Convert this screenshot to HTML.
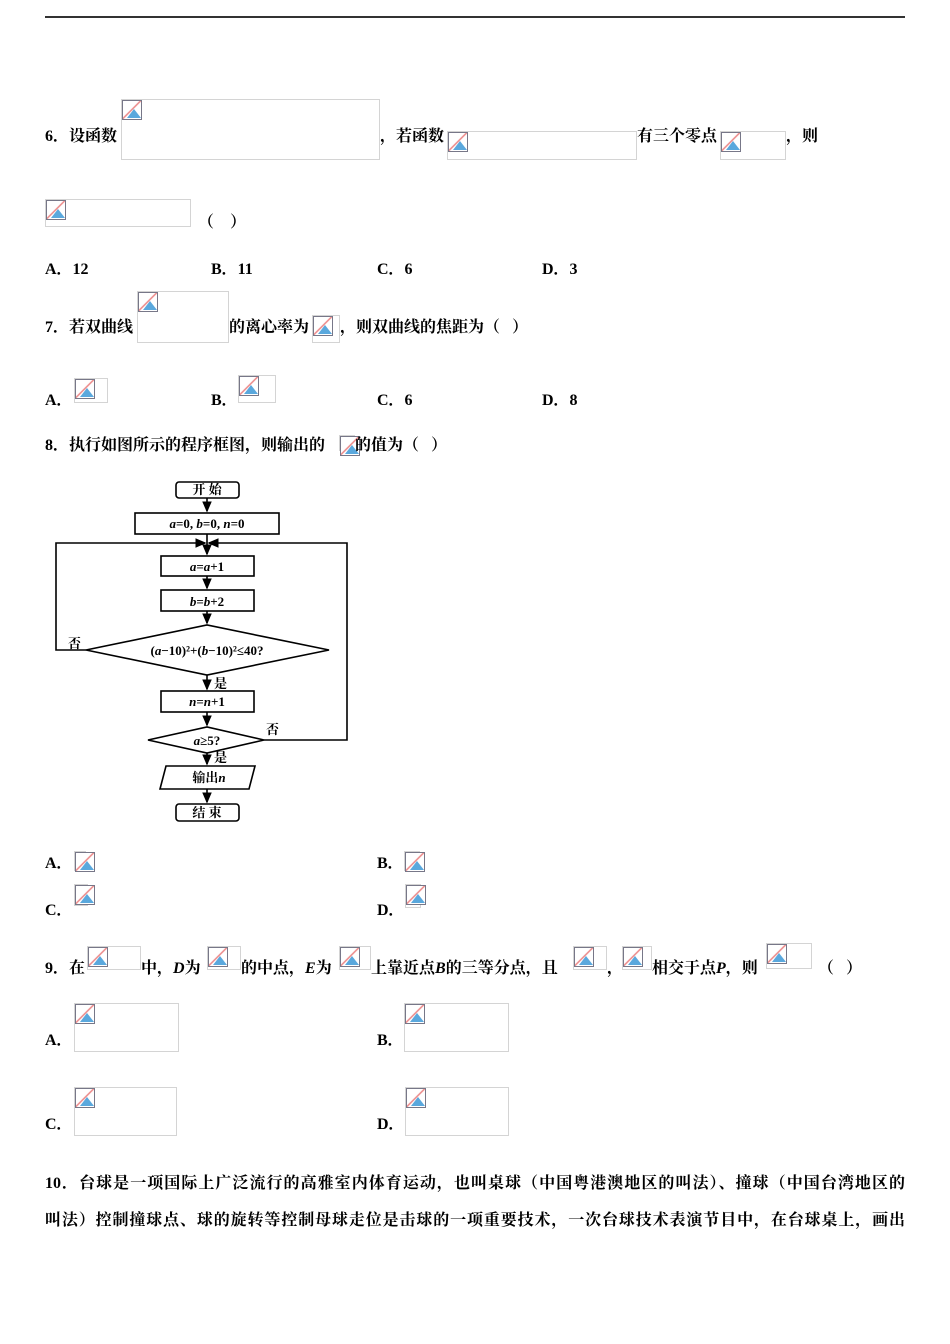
<!DOCTYPE html>
<html><head><meta charset="utf-8"><style>
body{margin:0;width:950px;height:1344px;background:#fff;position:relative;overflow:hidden;font-family:"Liberation Serif","Noto Serif CJK SC","Noto Sans CJK SC",serif;font-size:16px;color:#000;font-weight:bold}
.t{position:absolute;white-space:nowrap;line-height:18px}
.b{position:absolute;border:1px solid #d4d4d4;box-sizing:border-box}
.b::before{content:"";position:absolute;left:0;top:0;width:18px;height:18px;background:linear-gradient(135deg,#fff 0 45%,#e99 45% 52%,#fff 52%);border:1px solid #778}
.b::after{content:"";position:absolute;left:5px;top:9px;width:0;height:0;border-left:7px solid transparent;border-right:7px solid transparent;border-bottom:9px solid #5aa8dd}
i{font-style:italic}
</style></head><body>
<div style="position:absolute;left:45px;top:16px;width:860px;height:2px;background:#333"></div>

<div class="t" style="left:45px;top:128px">6．设函数</div>
<div class="b" style="left:121px;top:99px;width:259px;height:61px"></div>
<div class="t" style="left:380px;top:128px">，若函数</div>
<div class="b" style="left:447px;top:131px;width:190px;height:29px"></div>
<div class="t" style="left:637px;top:128px">有三个零点</div>
<div class="b" style="left:720px;top:131px;width:66px;height:29px"></div>
<div class="t" style="left:786px;top:128px">，则</div>
<div class="b" style="left:45px;top:199px;width:146px;height:28px"></div>
<div class="t" style="left:198px;top:214px">（&nbsp;&nbsp;&nbsp;&nbsp;）</div>

<div class="t" style="left:45px;top:261px">A．12</div>
<div class="t" style="left:211px;top:261px">B．11</div>
<div class="t" style="left:377px;top:261px">C．6</div>
<div class="t" style="left:542px;top:261px">D．3</div>

<div class="t" style="left:45px;top:319px">7．若双曲线</div>
<div class="b" style="left:137px;top:291px;width:92px;height:52px"></div>
<div class="t" style="left:229px;top:319px">的离心率为</div>
<div class="b" style="left:312px;top:315px;width:28px;height:28px"></div>
<div class="t" style="left:340px;top:319px">，则双曲线的焦距为（&nbsp;&nbsp;&nbsp;）</div>

<div class="t" style="left:45px;top:392px">A．</div>
<div class="b" style="left:74px;top:378px;width:34px;height:25px"></div>
<div class="t" style="left:211px;top:392px">B．</div>
<div class="b" style="left:238px;top:375px;width:38px;height:28px"></div>
<div class="t" style="left:377px;top:392px">C．6</div>
<div class="t" style="left:542px;top:392px">D．8</div>

<div class="t" style="left:45px;top:437px">8．执行如图所示的程序框图，则输出的</div>
<div class="b" style="left:339px;top:435px;width:16px;height:16px"></div>
<div class="t" style="left:355px;top:437px">的值为（&nbsp;&nbsp;&nbsp;）</div>

<svg style="position:absolute;left:0;top:0" width="950" height="1344" font-family="Liberation Serif,Noto Serif CJK SC,serif" font-size="13" font-weight="bold">
<defs><marker id="a" markerWidth="8" markerHeight="8" refX="6" refY="4" orient="auto"><path d="M0,1 L7,4 L0,7 z" fill="#000"/></marker></defs>
<g fill="none" stroke="#000" stroke-width="1.6">
<rect x="176" y="482" width="63" height="16" rx="3"/>
<rect x="135" y="513" width="144" height="21"/>
<rect x="161" y="556" width="93" height="20"/>
<rect x="161" y="590" width="93" height="21"/>
<path d="M86,650 L207,625 L329,650 L207,675 Z"/>
<rect x="161" y="691" width="93" height="21"/>
<path d="M148,740 L207,727 L264,740 L207,753 Z"/>
<path d="M166,766 L255,766 L249,789 L160,789 Z"/>
<rect x="176" y="804" width="63" height="17" rx="3"/>
<path d="M207,498 V511" marker-end="url(#a)"/>
<path d="M207,534 V554" marker-end="url(#a)"/>
<path d="M207,576 V588" marker-end="url(#a)"/>
<path d="M207,611 V623" marker-end="url(#a)"/>
<path d="M207,675 V689" marker-end="url(#a)"/>
<path d="M207,712 V725" marker-end="url(#a)"/>
<path d="M207,753 V764" marker-end="url(#a)"/>
<path d="M207,789 V802" marker-end="url(#a)"/>
<path d="M86,650 H56 V543 H205" marker-end="url(#a)"/>
<path d="M264,740 H347 V543 H209" marker-end="url(#a)"/>
</g>
<g text-anchor="middle">
<text x="207" y="494">开 始</text>
<text x="207" y="528"><tspan font-style="italic">a</tspan>=0, <tspan font-style="italic">b</tspan>=0, <tspan font-style="italic">n</tspan>=0</text>
<text x="207" y="571"><tspan font-style="italic">a</tspan>=<tspan font-style="italic">a</tspan>+1</text>
<text x="207" y="606"><tspan font-style="italic">b</tspan>=<tspan font-style="italic">b</tspan>+2</text>
<text x="207" y="655">(<tspan font-style="italic">a</tspan>−10)²+(<tspan font-style="italic">b</tspan>−10)²≤40?</text>
<text x="207" y="706"><tspan font-style="italic">n</tspan>=<tspan font-style="italic">n</tspan>+1</text>
<text x="207" y="745"><tspan font-style="italic">a</tspan>≥5?</text>
<text x="209" y="782">输出<tspan font-style="italic">n</tspan></text>
<text x="207" y="817">结 束</text>
</g>
<text x="68" y="648">否</text>
<text x="266" y="734">否</text>
<text x="214" y="688">是</text>
<text x="214" y="762">是</text>
</svg>

<div class="t" style="left:45px;top:855px">A．</div>
<div class="b" style="left:74px;top:851px;width:12px;height:20px"></div>
<div class="t" style="left:377px;top:855px">B．</div>
<div class="b" style="left:404px;top:851px;width:16px;height:20px"></div>
<div class="t" style="left:45px;top:902px">C．</div>
<div class="b" style="left:74px;top:884px;width:14px;height:22px"></div>
<div class="t" style="left:377px;top:902px">D．</div>
<div class="b" style="left:405px;top:884px;width:16px;height:24px"></div>

<div class="t" style="left:45px;top:960px">9．在</div>
<div class="b" style="left:87px;top:946px;width:54px;height:24px"></div>
<div class="t" style="left:141px;top:960px">中，<i>D</i>为</div>
<div class="b" style="left:207px;top:946px;width:34px;height:24px"></div>
<div class="t" style="left:241px;top:960px">的中点，<i>E</i>为</div>
<div class="b" style="left:339px;top:946px;width:32px;height:24px"></div>
<div class="t" style="left:371px;top:960px">上靠近点<i>B</i>的三等分点，且</div>
<div class="b" style="left:573px;top:946px;width:34px;height:24px"></div>
<div class="t" style="left:607px;top:960px">，</div>
<div class="b" style="left:622px;top:946px;width:30px;height:24px"></div>
<div class="t" style="left:652px;top:960px">相交于点<i>P</i>，则</div>
<div class="b" style="left:766px;top:943px;width:46px;height:26px"></div>
<div class="t" style="left:818px;top:960px">（&nbsp;&nbsp;&nbsp;）</div>

<div class="t" style="left:45px;top:1032px">A．</div>
<div class="b" style="left:74px;top:1003px;width:105px;height:49px"></div>
<div class="t" style="left:377px;top:1032px">B．</div>
<div class="b" style="left:404px;top:1003px;width:105px;height:49px"></div>
<div class="t" style="left:45px;top:1116px">C．</div>
<div class="b" style="left:74px;top:1087px;width:103px;height:49px"></div>
<div class="t" style="left:377px;top:1116px">D．</div>
<div class="b" style="left:405px;top:1087px;width:104px;height:49px"></div>

<div class="t" style="left:45px;top:1175px;width:860px;text-align:justify;text-align-last:justify">10．台球是一项国际上广泛流行的高雅室内体育运动，也叫桌球（中国粤港澳地区的叫法）、撞球（中国台湾地区的</div>
<div class="t" style="left:45px;top:1212px;width:860px;text-align:justify;text-align-last:justify">叫法）控制撞球点、球的旋转等控制母球走位是击球的一项重要技术，一次台球技术表演节目中，在台球桌上，画出</div>
</body></html>
